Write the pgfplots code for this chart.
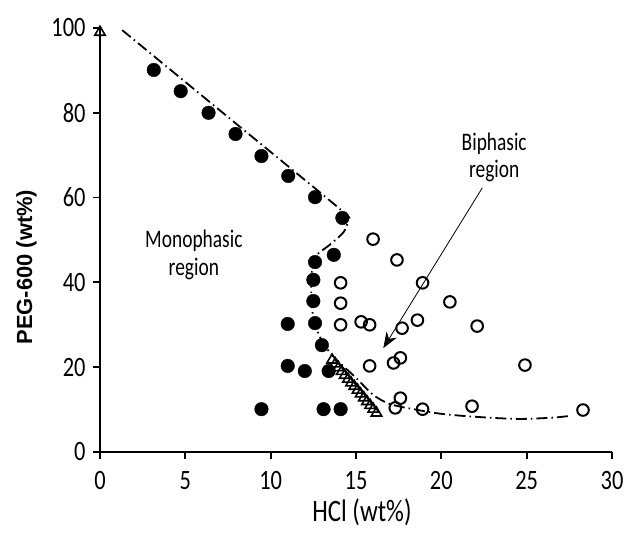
\documentclass[border=0pt]{standalone}
\usepackage{pgfplots}
\pgfplotsset{compat=1.18}
\usepackage{fontspec}
\setmainfont{Carlito}
\newfontfamily\labfont{Liberation Sans}
\usetikzlibrary{arrows.meta}
\newcommand{\tk}[1]{\scalebox{1}[1.25]{\fontsize{22.5}{25}\selectfont #1}}
\newcommand{\an}[1]{\scalebox{1}[1.3]{\fontsize{19.5}{22}\selectfont #1}}
\begin{document}
\begin{tikzpicture}
\begin{axis}[
  at={(0,0)}, anchor=south west,
  scale only axis, width=512bp, height=424bp,
  xmin=0, xmax=30, ymin=0, ymax=100,
  axis lines=left, axis line style={line width=1.8bp, -},
  xtick={0,5,...,30}, ytick={0,20,...,100},
  xticklabels={\tk{0},\tk{5},\tk{10},\tk{15},\tk{20},\tk{25},\tk{30}},
  yticklabels={\tk{0},\tk{20},\tk{40},\tk{60},\tk{80},\tk{100}},
  tick style={line width=1.8bp, black},
  major tick length=7bp,
  tick align=outside,
  xtick pos=bottom, ytick pos=left,
  xticklabel style={yshift=-9bp},
  yticklabel style={xshift=-4bp},
  xlabel={\scalebox{1}[1.25]{\fontsize{25}{28}\selectfont HCl (wt\%)}},
  ylabel={PEG-600 (wt\%)},
  xlabel style={xshift=6bp, yshift=-2bp},
  ylabel style={at={(ticklabel cs:0.436)}, font=\labfont\bfseries\fontsize{22}{25}\selectfont, yshift=8bp},
  clip=false,
]
% dash-dot binodal curve
\addplot[black, line width=1.8bp, smooth, tension=0.5,
  dash pattern=on 11bp off 4bp on 1.5bp off 4bp] coordinates {
  (1.3,99.5) (7.5,79) (14.0,57.5) (14.5,55) (14.3,52) (13.5,49)
  (12.6,46) (12.4,42) (12.4,35) (12.6,30) (13.1,25.5) (13.8,22)
  (15,17.5) (16,13.5) (17,11.3) (18.5,10) (20,9) (22,8.3)
  (24.5,7.8) (26.5,8.1) (27.5,8.5)};
% filled circles (monophasic)
\addplot[only marks, mark=*, mark size=6.8bp, black] coordinates {
  (3.15,90.1) (4.73,85.1) (6.36,80) (7.94,75) (9.46,69.8) (11.03,65.1)
  (12.6,60.1) (14.2,55.2) (12.6,44.8) (13.7,46.5) (12.5,40.6) (12.5,35.6)
  (12.6,30.4) (11.0,30.2) (13.0,25.2) (11.0,20.3) (12.0,19.1) (13.4,19.1)
  (9.46,10.1) (13.1,10.1) (14.1,10.1)};
% open circles (biphasic)
\addplot[only marks, mark=o, mark size=5.8bp, black, mark options={line width=2bp}] coordinates {
  (16.0,50.2) (14.1,39.9) (14.1,35.1) (14.1,30) (15.3,30.7) (15.8,30)
  (17.4,45.3) (18.9,39.9) (20.5,35.4) (17.7,29.2) (18.6,31.1) (22.1,29.7)
  (24.9,20.5) (15.8,20.3) (17.2,21) (17.6,22.2) (17.6,12.7) (17.3,10.4)
  (18.9,10.1) (21.8,10.8) (28.3,9.9)};
% open triangles
\addplot[only marks, mark=triangle, mark size=6bp, black, mark options={line width=1.6bp}] coordinates {
  (0,99) (13.60,21.7) (13.79,20.8) (13.97,19.9) (14.16,19.0) (14.34,18.1)
  (14.53,17.2) (14.71,16.3) (14.90,15.5) (15.09,14.6) (15.27,13.7)
  (15.46,12.8) (15.64,11.9) (15.83,11.0) (16.01,10.1) (16.20,9.2)};
\node[align=center] at (axis cs:5.5,46.5) {\an{Monophasic}\\[5bp]\an{region}};
\node[align=center] at (axis cs:23.1,69.5) {\an{Biphasic}\\[5bp]\an{region}};
\draw[line width=0.8bp, -{Stealth[length=16bp, width=12bp]}] (axis cs:22.4,62.3) -- (axis cs:16.6,24.5);
\end{axis}
\pgfresetboundingbox
\path (-100bp,-88bp) rectangle (531bp,452bp);
\end{tikzpicture}
\end{document}
